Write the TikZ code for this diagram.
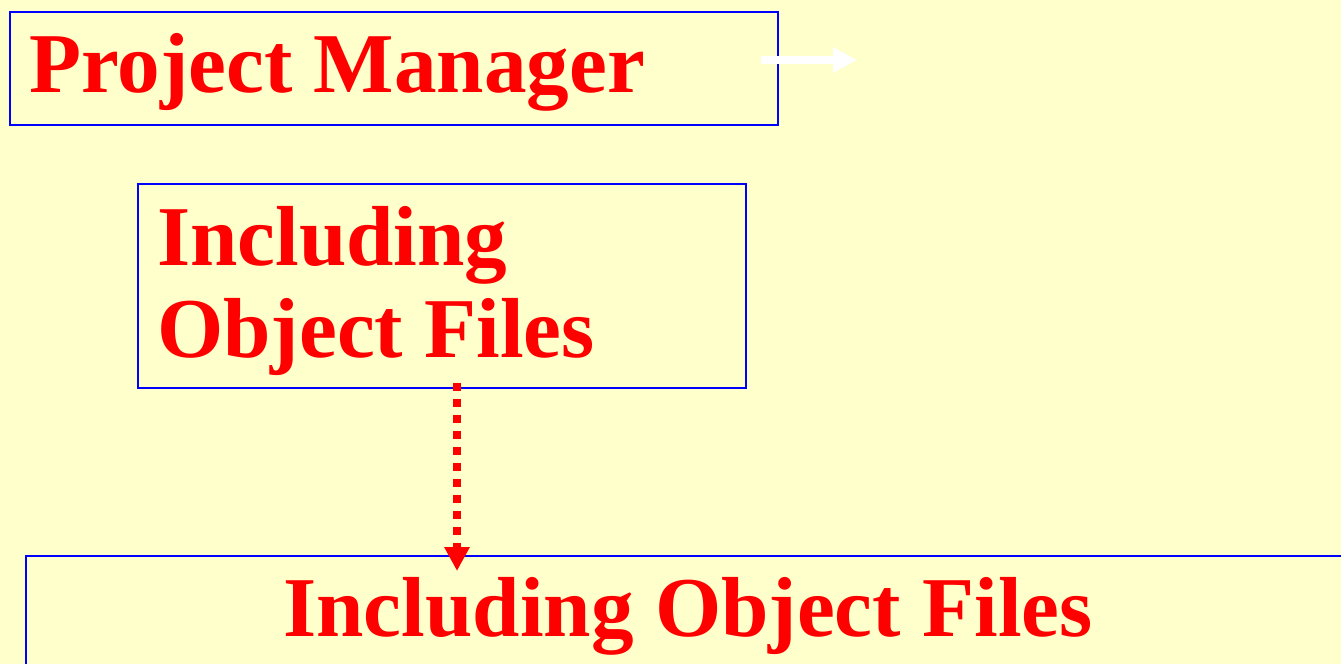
\documentclass[tikz,border=0pt]{standalone}
\usepackage{fontspec}
\setmainfont{Liberation Serif}
\usetikzlibrary{arrows.meta}
\definecolor{paper}{HTML}{FFFFCC}
\definecolor{frameblue}{HTML}{0000FF}
\definecolor{titlered}{HTML}{FF0000}
\begin{document}
\begin{tikzpicture}[x=1bp,y=-1bp,
  frame/.style={draw=frameblue,line width=1.7bp,fill=none,inner sep=0pt,anchor=north west},
  title/.style={text=titlered,font=\fontsize{85.5}{92}\selectfont\bfseries,inner sep=0pt,anchor=base west,align=left}]
  % page
  \fill[paper] (0,0) rectangle (1341,664);
  \useasboundingbox (0,0) rectangle (1341,664);
  \clip (0,0) rectangle (1341,664);

  % framed boxes
  \node[frame,minimum width=768bp,minimum height=113bp] (pm) at (9,11) {};
  \node[frame,minimum width=608bp,minimum height=204bp] (inc) at (137,183) {};
  \node[frame,minimum width=1340bp,minimum height=140bp] (big) at (25,555) {};

  % titles
  \node[title] (pmtext) at (29,93) {Project Manager};
  \node[title] (inctext) at (157,357) {Including\\Object Files};
  \node[title,anchor=base] (bigtext) at (688,636) {Including Object Files};

  % white arrow next to the first box
  \coordinate (wa) at (761,60);
  \coordinate (wb) at (857,60);
  \draw[white,line width=7.5bp,-{Triangle[width=24bp,length=24bp]}] (wa) -- (wb);

  % dotted red arrow between the boxes
  \coordinate (ra) at (457,383);
  \coordinate (rb) at (457,571);
  \draw[titlered,line width=8bp,dash pattern=on 8bp off 8bp,
        -{Triangle[width=24bp,length=24bp]}] (ra) -- (rb);
\end{tikzpicture}
\end{document}
